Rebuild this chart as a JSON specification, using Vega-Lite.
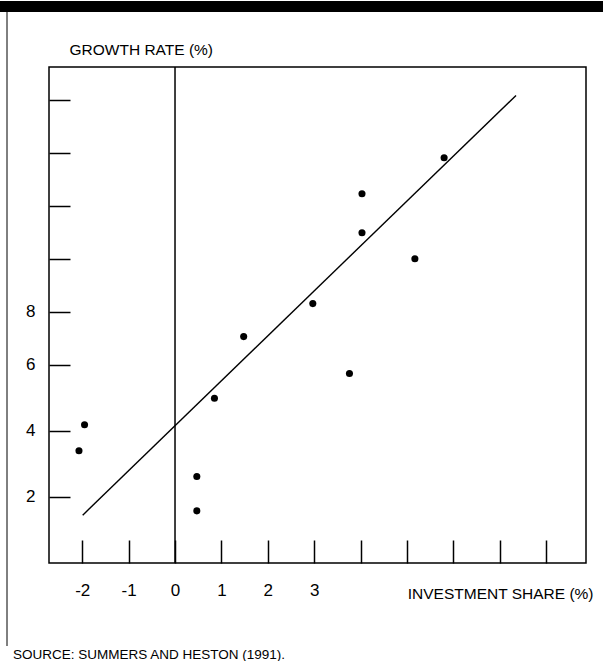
{
  "$schema": "https://vega.github.io/schema/vega-lite/v6.json",
  "padding": 0,
  "autosize": {"type": "pad"},
  "background": "white",
  "config": {
    "font": "Liberation Sans",
    "view": {"stroke": null},
    "title": {"fontWeight": "normal", "color": "black"}
  },
  "bounds": "flush",
  "spacing": 0,
  "vconcat": [
    {
      "width": 603,
      "height": 11,
      "view": {"fill": "black", "stroke": null},
      "data": {"values": [{}]},
      "mark": {"type": "text", "text": ""}
    },
    {
      "bounds": "flush",
      "spacing": 35,
      "hconcat": [
        {
          "width": 14,
          "height": 634,
          "title": {
            "text": "SOURCE: SUMMERS AND HESTON (1991).",
            "orient": "bottom",
            "anchor": "start",
            "frame": "group",
            "offset": 1,
            "dx": 13,
            "fontSize": 13.5,
            "fontWeight": "normal",
            "baseline": "top",
            "color": "black"
          },
          "data": {"values": [{}]},
          "mark": {"type": "rule", "color": "black", "strokeWidth": 1},
          "encoding": {
            "x": {"datum": 0.5, "type": "quantitative", "scale": {"domain": [0, 1]}, "axis": null}
          }
        },
        {
          "bounds": "flush",
          "spacing": 54,
          "vconcat": [
            {
              "width": 537,
              "height": 1,
              "data": {"values": [{}]},
              "mark": {"type": "text", "text": ""}
            },
            {
              "width": 537,
              "height": 496,
              "view": {"stroke": "black", "strokeWidth": 1.5},
              "layer": [
                {
                  "data": {"values": [{}]},
                  "mark": {"type": "rule", "color": "black", "strokeWidth": 1.5},
                  "encoding": {
                    "x": {"datum": 0, "type": "quantitative"}
                  }
                },
                {
                  "data": {"values": [
                    {"investment": -1.99, "growth": 1.45},
                    {"investment": 7.35, "growth": 14.17}
                  ]},
                  "mark": {"type": "line", "color": "black", "strokeWidth": 1.4},
                  "encoding": {
                    "x": {"field": "investment", "type": "quantitative"},
                    "y": {"field": "growth", "type": "quantitative"}
                  }
                },
                {
                  "data": {"values": [
                    {"investment": 5.80, "growth": 12.28},
                    {"investment": 4.03, "growth": 11.19},
                    {"investment": 4.03, "growth": 10.01},
                    {"investment": 5.17, "growth": 9.22},
                    {"investment": 2.97, "growth": 7.86},
                    {"investment": 1.48, "growth": 6.86},
                    {"investment": 3.76, "growth": 5.74},
                    {"investment": 0.85, "growth": 4.99},
                    {"investment": -1.95, "growth": 4.19},
                    {"investment": -2.07, "growth": 3.40},
                    {"investment": 0.47, "growth": 2.62},
                    {"investment": 0.47, "growth": 1.58}
                  ]},
                  "mark": {"type": "circle", "color": "black", "opacity": 1, "size": 50},
                  "encoding": {
                    "x": {"field": "investment", "type": "quantitative"},
                    "y": {"field": "growth", "type": "quantitative"}
                  }
                }
              ],
              "resolve": {"scale": {"x": "shared", "y": "shared"}},
              "encoding": {
                "x": {
                  "type": "quantitative",
                  "scale": {"domain": [-2.716, 8.858], "nice": false, "zero": false},
                  "axis": {
                    "values": [-2, -1, 0, 1, 2, 3, 4, 5, 6, 7, 8],
                    "labelExpr": "datum.value <= 3 ? ('' + datum.value) : ''",
                    "grid": false,
                    "domain": false,
                    "tickSize": -23,
                    "tickColor": "black",
                    "tickWidth": 1.5,
                    "labelFontSize": 17,
                    "labelColor": "black",
                    "labelPadding": 42,
                    "labelFlush": false,
                    "title": "INVESTMENT SHARE (%)",
                    "titleFontSize": 15.5,
                    "titleFontWeight": "normal",
                    "titleColor": "black",
                    "titleAlign": "right",
                    "titleAnchor": null,
                    "titleBaseline": "alphabetic",
                    "titleX": 544,
                    "titleY": 35.5
                  }
                },
                "y": {
                  "type": "quantitative",
                  "scale": {"domain": [0, 15.03], "nice": false, "zero": false},
                  "axis": {
                    "values": [2, 4, 6, 7.606, 9.203, 10.818, 12.424, 14.02],
                    "labelExpr": "datum.value == 7.606 ? '8' : (datum.value < 7 ? ('' + datum.value) : '')",
                    "grid": false,
                    "domain": false,
                    "tickSize": -21,
                    "tickColor": "black",
                    "tickWidth": 1.5,
                    "labelFontSize": 17,
                    "labelColor": "black",
                    "labelPadding": 35,
                    "labelFlush": false,
                    "title": "GROWTH RATE (%)",
                    "titleFontSize": 15.5,
                    "titleFontWeight": "normal",
                    "titleColor": "black",
                    "titleAngle": 0,
                    "titleAlign": "left",
                    "titleAnchor": null,
                    "titleBaseline": "alphabetic",
                    "titleX": 20,
                    "titleY": -12.5
                  }
                }
              }
            }
          ]
        }
      ]
    }
  ]
}
